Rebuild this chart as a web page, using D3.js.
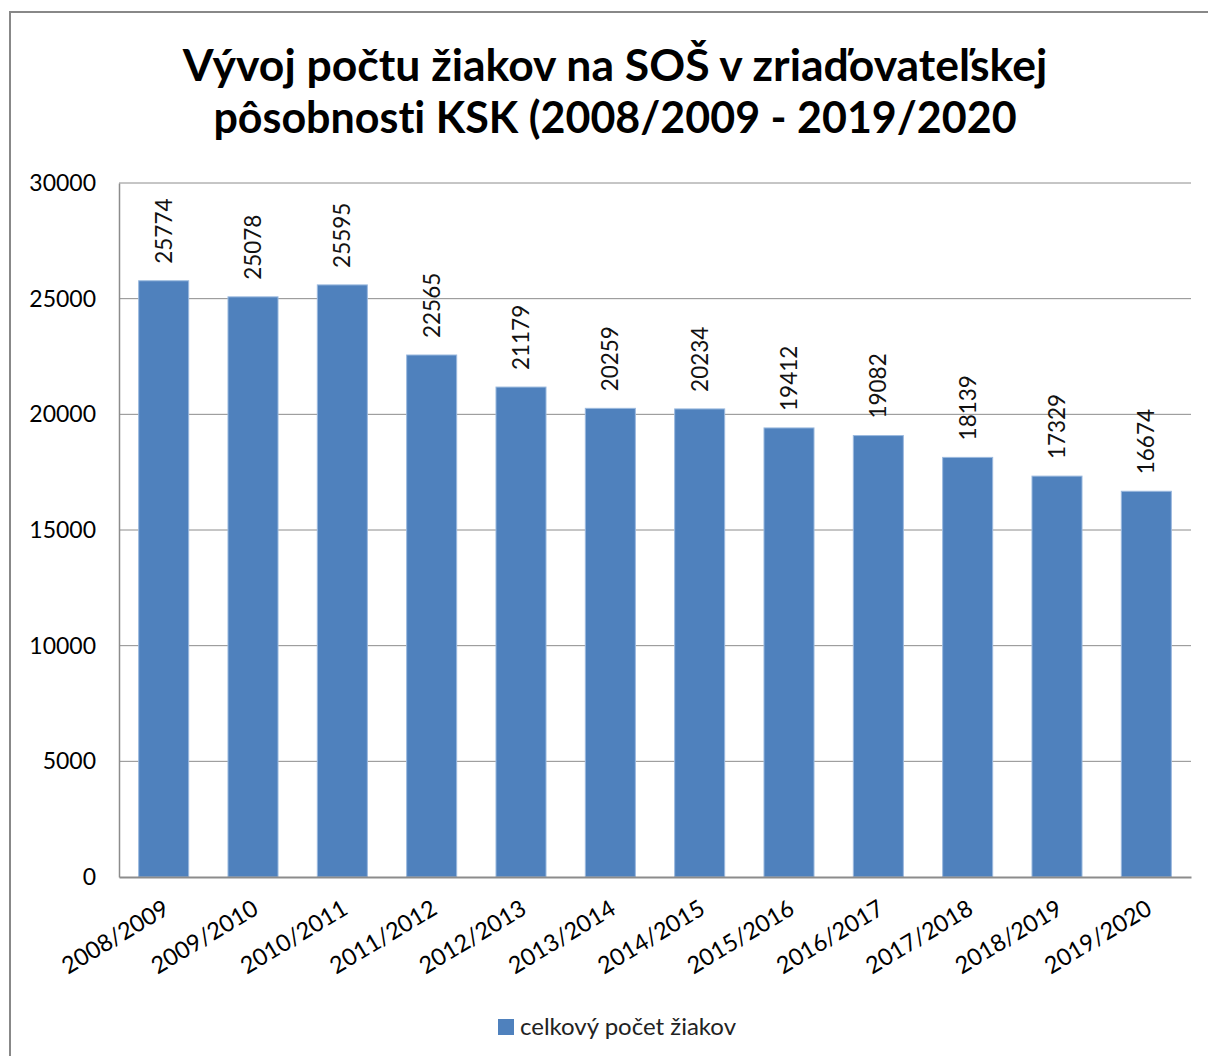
<!DOCTYPE html>
<html>
<head>
<meta charset="utf-8">
<script src="https://cdn.jsdelivr.net/npm/d3@7"></script>
<style>
  body { margin: 0; background: #fff; }
  svg { display: block; font-family: Lato, "Open Sans", sans-serif; font-variant-ligatures: none; }
</style>
</head>
<body>
<svg id="chart" width="1208" height="1056"></svg>
<script>
const years = ["2008/2009", "2009/2010", "2010/2011", "2011/2012", "2012/2013", "2013/2014",
  "2014/2015", "2015/2016", "2016/2017", "2017/2018", "2018/2019", "2019/2020"];
const students = [25774, 25078, 25595, 22565, 21179, 20259, 20234, 19412, 19082, 18139, 17329, 16674];
const yTicks = [0, 5000, 10000, 15000, 20000, 25000, 30000];
const titleLines = ["Vývoj počtu žiakov na SOŠ v zriaďovateľskej", "pôsobnosti KSK (2008/2009 - 2019/2020"];
const legendLabel = "celkový počet žiakov";

const svg = d3.select("#chart");
const margin = { top: 183, right: 17, bottom: 179, left: 119 };
const width = +svg.attr("width");
const height = +svg.attr("height");
const innerW = width - margin.left - margin.right;
const innerH = height - margin.top - margin.bottom;

// outer chart frame (runs off the right/bottom edge like the screenshot)
svg.append("rect")
  .attr("x", 10).attr("y", 12)
  .attr("width", 1220).attr("height", 1070)
  .attr("fill", "none").attr("stroke", "#888").attr("stroke-width", 2);

svg.append("g").selectAll("text")
  .data(titleLines)
  .join("text")
  .attr("x", 615)
  .attr("y", (d, i) => 81 + i * 52)
  .attr("text-anchor", "middle")
  .attr("font-size", (d, i) => i === 0 ? 44.5 : 43)
  .attr("font-weight", "bold")
  .attr("fill", "#000")
  .text(d => d);

const g = svg.append("g").attr("transform", `translate(${margin.left},${margin.top})`);

const x = d3.scaleBand().domain(years).range([0, innerW]).paddingInner(0.44).paddingOuter(0.22);
const y = d3.scaleLinear().domain([0, 30000]).range([innerH, 0]);

// gridlines
g.append("g").selectAll("line")
  .data(yTicks.slice(1))
  .join("line")
  .attr("x1", 0).attr("x2", innerW)
  .attr("y1", d => y(d)).attr("y2", d => y(d))
  .attr("stroke", "#8c8c8c").attr("stroke-width", 1);

const yAxis = g.append("g")
  .call(d3.axisLeft(y).tickValues(yTicks).tickSize(0).tickPadding(23).tickFormat(d3.format("d")));
yAxis.select(".domain").attr("stroke", "#8c8c8c").attr("stroke-width", 1.5);
yAxis.selectAll("text").attr("font-size", 23).attr("fill", "#000").attr("font-family", "Lato, sans-serif");

g.append("g").selectAll("rect")
  .data(students)
  .join("rect")
  .attr("x", (d, i) => x(years[i]))
  .attr("y", d => y(d))
  .attr("width", x.bandwidth())
  .attr("height", d => innerH - y(d))
  .attr("fill", "#4f81bd")
  .attr("stroke", "#9bb9de").attr("stroke-width", 1);

// value labels, rotated
g.append("g").selectAll("text")
  .data(students)
  .join("text")
  .attr("transform", (d, i) => `translate(${x(years[i]) + x.bandwidth() / 2 + 8},${y(d) - 17}) rotate(-90)`)
  .attr("font-size", 22.5)
  .attr("fill", "#111")
  .text(d => d);

const xAxis = g.append("g")
  .attr("transform", `translate(0,${innerH})`)
  .call(d3.axisBottom(x).tickSize(0).tickPadding(0));
xAxis.select(".domain").attr("stroke", "#8c8c8c").attr("stroke-width", 2);
xAxis.selectAll("text")
  .attr("font-size", 23.5)
  .attr("fill", "#000")
  .attr("font-family", "Lato, sans-serif")
  .attr("text-anchor", "end")
  .attr("dy", 0)
  .attr("transform", "translate(7,36) rotate(-31)");

// legend
const legend = svg.append("g").attr("transform", "translate(498,1019)");
legend.append("rect").attr("width", 16).attr("height", 16).attr("fill", "#4f81bd");
legend.append("text").attr("x", 22).attr("y", 16).attr("font-size", 24).attr("fill", "#222").text(legendLabel);
</script>
</body>
</html>
